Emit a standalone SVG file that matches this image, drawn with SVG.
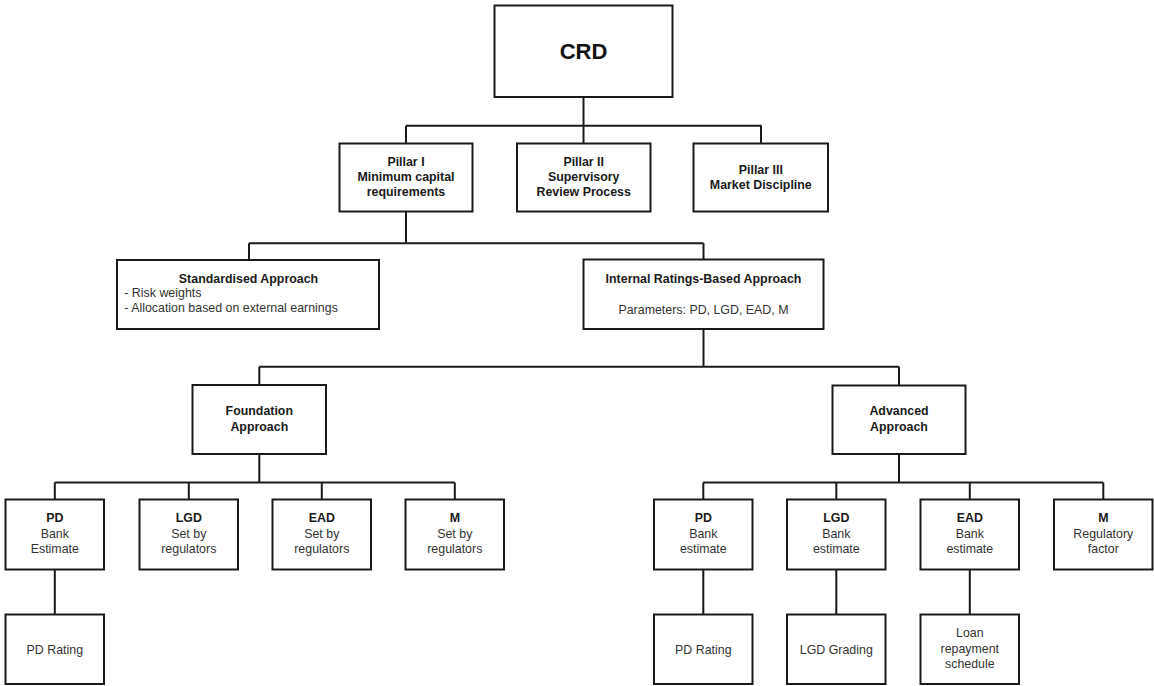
<svg xmlns="http://www.w3.org/2000/svg" width="1154" height="686" viewBox="0 0 1154 686">
<style>
.box{fill:#fff;stroke:#1a1a1a;stroke-width:2}
.conn{fill:none;stroke:#1a1a1a;stroke-width:2}
text{font-family:"Liberation Sans",Arial,sans-serif;font-size:12.4px;text-anchor:middle}
.b{font-weight:bold;fill:#1a1a1a}
.r{fill:#333}
.l{text-anchor:start}
.big{font-size:22px;font-weight:bold;fill:#111}
</style>
<rect width="1154" height="686" fill="#fff"/>
<g id="connectors">
<path class="conn" d="M583.5 97V125.7M406 125.7H761.5M406 125.7V143.5M583.5 125.7V143.5M761 125.7V143.5"/>
<path class="conn" d="M406 211.5V243.3M249 243.3H703.5M249 243.3V260M703.5 243.3V259.5"/>
<path class="conn" d="M703.5 329V366.7M259.3 366.7H899M259.3 366.7V385M899 366.7V385.5"/>
<path class="conn" d="M259.3 454V482.5M54.8 482.5H454.8M54.8 482.5V499.5M188.8 482.5V499.5M321.8 482.5V499.5M454.8 482.5V499.5"/>
<path class="conn" d="M899 454V482.5M703.3 482.5H1103.3M703.3 482.5V499.5M836.3 482.5V499.5M969.8 482.5V499.5M1103.3 482.5V499.5"/>
<path class="conn" d="M54.8 569.5V614.5M703.3 569.5V614.5M836.3 569.5V614.5M969.8 569.5V614.5"/>
</g>
<g id="crd"><rect class="box" x="494.5" y="5.5" width="178" height="91.5"/><text class="big" x="583.5" y="59">CRD</text></g>
<g id="pillar1"><rect class="box" x="339.5" y="143.5" width="133" height="68"/><text class="b" x="406" y="166">Pillar I</text><text class="b" x="406" y="181">Minimum capital</text><text class="b" x="406" y="196">requirements</text></g>
<g id="pillar2"><rect class="box" x="517" y="143.5" width="133.5" height="68"/><text class="b" x="583.7" y="165.5">Pillar II</text><text class="b" x="583.7" y="180.7">Supervisory</text><text class="b" x="583.7" y="195.8">Review Process</text></g>
<g id="pillar3"><rect class="box" x="693.5" y="143.5" width="134.5" height="68"/><text class="b" x="760.8" y="173.5">Pillar III</text><text class="b" x="760.8" y="188.7">Market Discipline</text></g>
<g id="standardised"><rect class="box" x="117" y="260" width="262" height="69"/><text class="b" x="248.5" y="282.7">Standardised Approach</text><text class="r l" x="124.3" y="296.7">- Risk weights</text><text class="r l" x="124.3" y="311.7">- Allocation based on external earnings</text></g>
<g id="irb"><rect class="box" x="583.5" y="259.5" width="240" height="69.5"/><text class="b" x="703.5" y="282.7">Internal Ratings-Based Approach</text><text class="r" x="703.5" y="314">Parameters: PD, LGD, EAD, M</text></g>
<g id="foundation"><rect class="box" x="192.5" y="385" width="133.5" height="69"/><text class="b" x="259.3" y="415">Foundation</text><text class="b" x="259.3" y="430.6">Approach</text></g>
<g id="advanced"><rect class="box" x="832.5" y="385.5" width="133" height="68.5"/><text class="b" x="899" y="415">Advanced</text><text class="b" x="899" y="430.6">Approach</text></g>
<g id="f-pd"><rect class="box" x="5.5" y="499.5" width="98.5" height="70"/><text class="b" x="54.8" y="522.3">PD</text><text class="r" x="54.8" y="537.8">Bank</text><text class="r" x="54.8" y="553.3">Estimate</text></g>
<g id="f-lgd"><rect class="box" x="139.5" y="499.5" width="98.5" height="70"/><text class="b" x="188.8" y="522.3">LGD</text><text class="r" x="188.8" y="537.8">Set by</text><text class="r" x="188.8" y="553.3">regulators</text></g>
<g id="f-ead"><rect class="box" x="272.5" y="499.5" width="98.5" height="70"/><text class="b" x="321.8" y="522.3">EAD</text><text class="r" x="321.8" y="537.8">Set by</text><text class="r" x="321.8" y="553.3">regulators</text></g>
<g id="f-m"><rect class="box" x="405.5" y="499.5" width="98.5" height="70"/><text class="b" x="454.8" y="522.3">M</text><text class="r" x="454.8" y="537.8">Set by</text><text class="r" x="454.8" y="553.3">regulators</text></g>
<g id="a-pd"><rect class="box" x="654" y="499.5" width="98.5" height="70"/><text class="b" x="703.3" y="522.3">PD</text><text class="r" x="703.3" y="537.8">Bank</text><text class="r" x="703.3" y="553.3">estimate</text></g>
<g id="a-lgd"><rect class="box" x="787" y="499.5" width="98.5" height="70"/><text class="b" x="836.3" y="522.3">LGD</text><text class="r" x="836.3" y="537.8">Bank</text><text class="r" x="836.3" y="553.3">estimate</text></g>
<g id="a-ead"><rect class="box" x="920.5" y="499.5" width="98.5" height="70"/><text class="b" x="969.8" y="522.3">EAD</text><text class="r" x="969.8" y="537.8">Bank</text><text class="r" x="969.8" y="553.3">estimate</text></g>
<g id="a-m"><rect class="box" x="1054" y="499.5" width="98.5" height="70"/><text class="b" x="1103.3" y="522.3">M</text><text class="r" x="1103.3" y="537.8">Regulatory</text><text class="r" x="1103.3" y="553.3">factor</text></g>
<g id="f-pdrating"><rect class="box" x="5.5" y="614.5" width="98.5" height="69.5"/><text class="r" x="54.8" y="653.5">PD Rating</text></g>
<g id="a-pdrating"><rect class="box" x="654" y="614.5" width="98.5" height="69.5"/><text class="r" x="703.3" y="653.5">PD Rating</text></g>
<g id="a-lgdgrading"><rect class="box" x="787" y="614.5" width="98.5" height="69.5"/><text class="r" x="836.3" y="653.5">LGD Grading</text></g>
<g id="a-loan"><rect class="box" x="920.5" y="614.5" width="98.5" height="69.5"/><text class="r" x="969.8" y="637">Loan</text><text class="r" x="969.8" y="652.5">repayment</text><text class="r" x="969.8" y="668">schedule</text></g>
</svg>
